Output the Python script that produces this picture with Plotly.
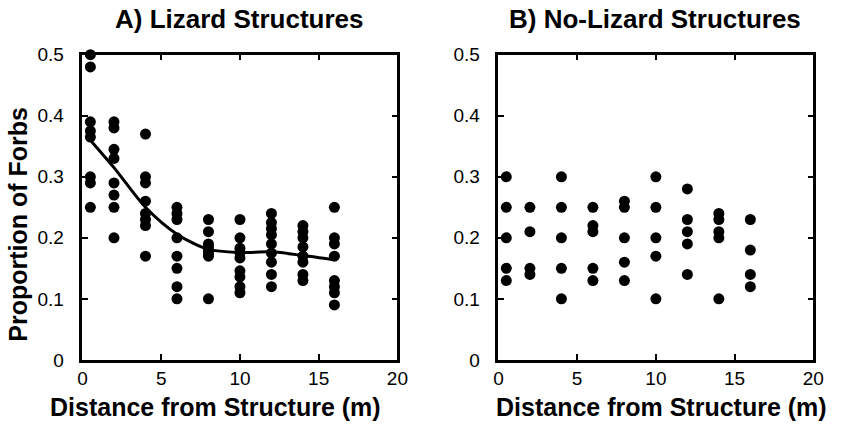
import plotly.graph_objects as go

# ---- Data ----
dist_cols = [0.5, 2, 4, 6, 8, 10, 12, 14, 16]

lizard_vals = [
    [0.50, 0.48, 0.39, 0.375, 0.365, 0.30, 0.29, 0.25],
    [0.39, 0.38, 0.345, 0.33, 0.29, 0.27, 0.25, 0.20],
    [0.37, 0.30, 0.29, 0.26, 0.24, 0.23, 0.22, 0.17],
    [0.25, 0.24, 0.23, 0.20, 0.17, 0.15, 0.12, 0.10],
    [0.23, 0.21, 0.19, 0.185, 0.18, 0.175, 0.17, 0.10],
    [0.23, 0.20, 0.183, 0.176, 0.167, 0.146, 0.136, 0.12, 0.11],
    [0.24, 0.225, 0.215, 0.205, 0.19, 0.175, 0.16, 0.14, 0.12],
    [0.22, 0.21, 0.20, 0.185, 0.17, 0.16, 0.14, 0.13],
    [0.25, 0.20, 0.19, 0.17, 0.13, 0.12, 0.11, 0.09],
]

nolizard_vals = [
    [0.30, 0.25, 0.20, 0.15, 0.13],
    [0.25, 0.21, 0.15, 0.14],
    [0.30, 0.25, 0.20, 0.15, 0.10],
    [0.25, 0.22, 0.21, 0.15, 0.13],
    [0.26, 0.25, 0.20, 0.16, 0.13],
    [0.30, 0.25, 0.20, 0.17, 0.10],
    [0.28, 0.23, 0.21, 0.19, 0.14],
    [0.24, 0.23, 0.21, 0.20, 0.10],
    [0.23, 0.18, 0.14, 0.12],
]

smooth_x = [0.5, 2, 4, 6, 8, 10, 12, 14, 16]
smooth_y = [0.36, 0.315, 0.25, 0.206, 0.181, 0.176, 0.177, 0.171, 0.164]

x_ticks = [0, 5, 10, 15, 20]
y_ticks = [0, 0.1, 0.2, 0.3, 0.4, 0.5]
y_tick_text = ["0", "0.1", "0.2", "0.3", "0.4", "0.5"]

panel_titles = ["A) Lizard Structures", "B) No-Lizard Structures"]
x_title = "Distance from Structure (m)"
y_title = "Proportion of Forbs"


def flatten(cols, vals):
    xs, ys = [], []
    for c, vs in zip(cols, vals):
        for v in vs:
            xs.append(c)
            ys.append(v)
    return xs, ys


W, H = 841, 427
fig = go.Figure()

ax, ay = flatten(dist_cols, lizard_vals)
bx, by = flatten(dist_cols, nolizard_vals)

marker = dict(color="black", size=11, line=dict(width=0))
fig.add_trace(go.Scatter(x=ax, y=ay, mode="markers", marker=marker,
                         xaxis="x", yaxis="y", cliponaxis=False, showlegend=False))
fig.add_trace(go.Scatter(x=smooth_x, y=smooth_y, mode="lines",
                         line=dict(color="black", width=3, shape="spline", smoothing=0.8),
                         xaxis="x", yaxis="y", showlegend=False))
fig.add_trace(go.Scatter(x=bx, y=by, mode="markers", marker=marker,
                         xaxis="x2", yaxis="y2", cliponaxis=False, showlegend=False))

font_tick = dict(family="Liberation Sans, Arial, sans-serif", size=19, color="black")

xcommon = dict(range=[0, 20], tickvals=x_ticks, ticks="inside", ticklen=6, tickwidth=2,
               tickcolor="black", showline=True, linecolor="black", linewidth=2.5,
               mirror="ticks", showgrid=False, zeroline=False, tickfont=font_tick,
               ticklabelstandoff=0)
ycommon = dict(range=[0, 0.5], tickvals=y_ticks, ticktext=y_tick_text, ticks="inside",
               ticklen=6, tickwidth=2, tickcolor="black", showline=True, linecolor="black",
               linewidth=2.5, mirror="ticks", showgrid=False, zeroline=False,
               tickfont=font_tick, ticklabelstandoff=12)

ydom = [1 - 368 / H, 1 - 47 / H]
fig.update_layout(
    width=W, height=H,
    margin=dict(l=0, r=0, t=0, b=0),
    paper_bgcolor="white", plot_bgcolor="white",
    xaxis=dict(domain=[79 / W, 400 / W], anchor="y", **xcommon),
    yaxis=dict(domain=ydom, anchor="x", **ycommon),
    xaxis2=dict(domain=[503 / W, 824 / W], anchor="y2", **xcommon),
    yaxis2=dict(domain=ydom, anchor="x2", **ycommon),
)

fam = "Liberation Sans, Arial, sans-serif"
annots = [
    dict(text="<b>%s</b>" % panel_titles[0], x=239 / W, y=1 - 9 / H, size=26),
    dict(text="<b>%s</b>" % panel_titles[1], x=663 / W, y=1 - 9 / H, size=26),
    dict(text="<b>%s</b>" % x_title, x=215 / W, y=1 - 418 / H, size=25),
    dict(text="<b>%s</b>" % x_title, x=669 / W, y=1 - 418 / H, size=25),
    dict(text="<b>%s</b>" % y_title, x=13 / W, y=1 - 225 / H, size=25, textangle=-90),
]
for a in annots:
    size = a.pop("size")
    fig.add_annotation(xref="paper", yref="paper", showarrow=False,
                       xanchor="center", yanchor="middle",
                       font=dict(family=fam, size=size, color="black"), **a)

fig.write_html("out.html")
